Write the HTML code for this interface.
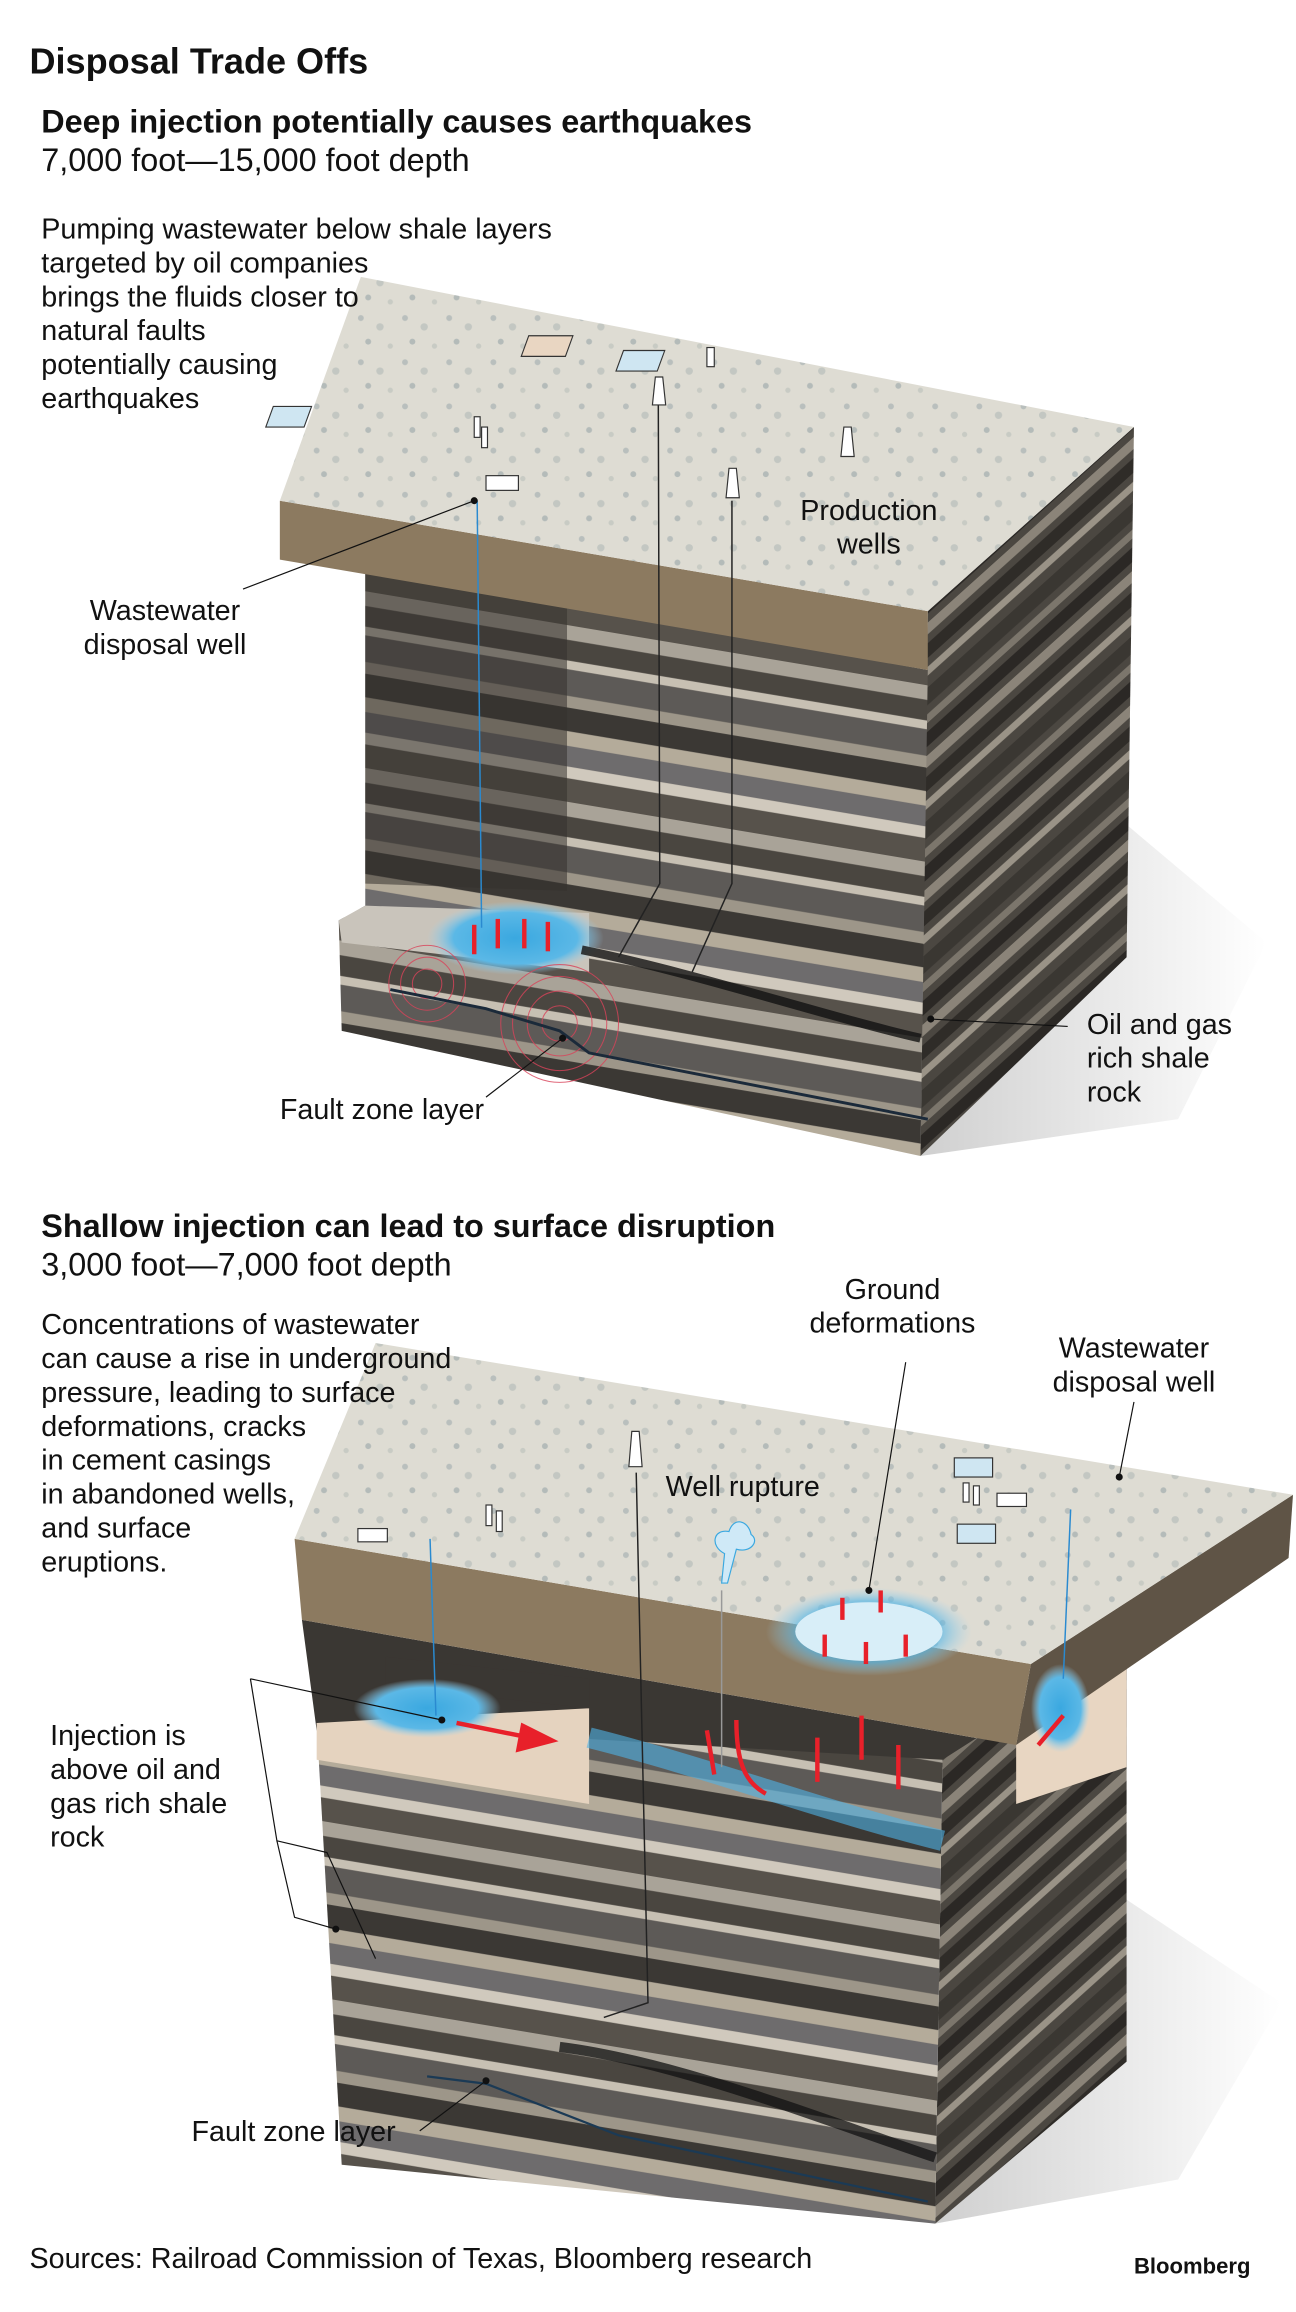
<!DOCTYPE html>
<html><head><meta charset="utf-8"><style>
html,body{margin:0;padding:0;background:#fff}
svg{display:block}
text{font-family:"Liberation Sans",Arial,sans-serif;fill:#111}
</style></head><body>
<svg width="1296" height="2312" viewBox="0 0 880 1570" xmlns="http://www.w3.org/2000/svg">
<defs>
<pattern id="strata" width="40" height="120" patternUnits="userSpaceOnUse" patternTransform="skewY(9.5)">
<rect width="40" height="120" fill="#6f6a62"/>
<rect y="0" width="40" height="10" fill="#a9a398"/>
<rect y="10" width="40" height="14" fill="#4a4640"/>
<rect y="24" width="40" height="6" fill="#c7c0b3"/>
<rect y="30" width="40" height="18" fill="#5d5a57"/>
<rect y="48" width="40" height="8" fill="#9d9689"/>
<rect y="56" width="40" height="16" fill="#3b3834"/>
<rect y="72" width="40" height="10" fill="#b4ab9a"/>
<rect y="82" width="40" height="14" fill="#6e6c6d"/>
<rect y="96" width="40" height="8" fill="#d0c9bd"/>
<rect y="104" width="40" height="16" fill="#57524b"/>
</pattern>
<pattern id="strataR" width="40" height="90" patternUnits="userSpaceOnUse" patternTransform="skewY(-42)">
<rect width="40" height="90" fill="#4b4741"/>
<rect y="0" width="40" height="8" fill="#8b8479"/>
<rect y="14" width="40" height="10" fill="#2f2c28"/>
<rect y="30" width="40" height="6" fill="#9a9387"/>
<rect y="44" width="40" height="12" fill="#3a3732"/>
<rect y="62" width="40" height="6" fill="#7c766c"/>
<rect y="74" width="40" height="10" fill="#2b2825"/>
</pattern>
<pattern id="ground" width="30" height="30" patternUnits="userSpaceOnUse">
<rect width="30" height="30" fill="#dedcd3"/>
<circle cx="5" cy="6" r="2" fill="#b9bfbd"/>
<circle cx="18" cy="12" r="2.5" fill="#c3c7c2"/>
<circle cx="10" cy="22" r="2" fill="#b4bbb9"/>
<circle cx="25" cy="25" r="1.8" fill="#c8cbc4"/>
</pattern>
<radialGradient id="blue"><stop offset="0" stop-color="#3aa8e0"/><stop offset="0.7" stop-color="#5bb8e6"/><stop offset="1" stop-color="#9fd3ef" stop-opacity="0"/></radialGradient>
<linearGradient id="shadow" x1="0" x2="1"><stop offset="0" stop-color="#bbb"/><stop offset="1" stop-color="#fff"/></linearGradient>
</defs>

<!-- BLOCK 1 -->
<polygon points="765,560 860,640 800,760 625,785" fill="url(#shadow)" opacity="0.7"/>
<polygon points="630,415 770,290 765,650 625,785" fill="url(#strataR)"/>
<polygon points="248,385 630,455 625,785 232,700 230,625 248,615" fill="url(#strata)"/>
<polygon points="248,385 385,410 385,605 248,600" fill="#35322e" opacity="0.55"/>
<polygon points="230,625 248,615 400,620 400,660 232,640" fill="#c9c4bb"/>
<polygon points="190,340 630,415 630,455 190,380" fill="#8c7a60"/>
<polygon points="190,340 245,188 770,290 630,415" fill="url(#ground)"/>
<ellipse cx="350" cy="637" rx="60" ry="25" fill="url(#blue)"/>
<g fill="none" stroke="#d9435a" stroke-width="0.7" opacity="0.8">
<circle cx="290" cy="668" r="10"/><circle cx="290" cy="668" r="18"/><circle cx="290" cy="668" r="26"/>
<circle cx="380" cy="695" r="12"/><circle cx="380" cy="695" r="22"/><circle cx="380" cy="695" r="32"/><circle cx="380" cy="695" r="40"/>
</g>
<path d="M265,672 L330,685 L380,700 L400,715 L630,760" stroke="#1b2a3a" stroke-width="2" fill="none"/>
<path d="M395,645 C470,660 560,690 625,705" stroke="#111" stroke-width="6" fill="none" opacity="0.8"/>
<g stroke="#e8202a" stroke-width="3" fill="#e8202a">
<line x1="322" y1="628" x2="322" y2="648"/><line x1="338" y1="624" x2="338" y2="644"/><line x1="356" y1="624" x2="356" y2="644"/><line x1="372" y1="626" x2="372" y2="646"/>
</g>
<g stroke="#222" fill="none" stroke-width="1">
<line x1="324" y1="340" x2="327" y2="630" stroke="#2a8ad0"/>
<path d="M447,275 L448,600 L420,650"/>
<path d="M497,340 L497,600 L470,660"/>
</g>
<g fill="#fff" stroke="#333" stroke-width="0.8">
<rect x="442" y="228" width="30" height="14" fill="#e9d6c2" transform="skewX(-20)"/>
<rect x="510" y="238" width="28" height="14" fill="#cfe6f2" transform="skewX(-20)"/>
<rect x="286" y="276" width="26" height="14" fill="#cfe6f2" transform="skewX(-20)"/>
<rect x="480" y="236" width="5" height="13"/>
<rect x="322" y="283" width="4" height="14"/><rect x="327" y="290" width="4" height="14"/>
<rect x="330" y="323" width="22" height="10"/>
<path d="M445,256 L450,256 L452,275 L443,275Z"/>
<path d="M495,318 L500,318 L502,338 L493,338Z"/>
<path d="M573,290 L578,290 L580,310 L571,310Z"/>
</g>

<text x="20" y="50" font-size="24.5" font-weight="bold">Disposal Trade Offs</text>
<text x="28" y="90" font-size="22" font-weight="bold">Deep injection potentially causes earthquakes</text>
<text x="28" y="116" font-size="22">7,000 foot—15,000 foot depth</text>
<g font-size="19.5">
<text x="28" y="162">Pumping wastewater below shale layers</text>
<text x="28" y="185">targeted by oil companies</text>
<text x="28" y="208">brings the fluids closer to</text>
<text x="28" y="231">natural faults</text>
<text x="28" y="254">potentially causing</text>
<text x="28" y="277">earthquakes</text>
<text x="590" y="353" text-anchor="middle">Production</text>
<text x="590" y="376" text-anchor="middle">wells</text>
<text x="112" y="421" text-anchor="middle">Wastewater</text>
<text x="112" y="444" text-anchor="middle">disposal well</text>
<text x="190" y="760">Fault zone layer</text>
<text x="738" y="702">Oil and gas</text>
<text x="738" y="725">rich shale</text>
<text x="738" y="748">rock</text>
</g>
<g stroke="#111" stroke-width="0.8">
<line x1="165" y1="400" x2="322" y2="340"/><circle cx="322" cy="340" r="2" fill="#111"/>
<line x1="330" y1="745" x2="382" y2="705"/><circle cx="382" cy="705" r="2" fill="#111"/>
<line x1="725" y1="697" x2="632" y2="692"/><circle cx="632" cy="692" r="2" fill="#111"/>
</g>

<text x="28" y="840" font-size="22" font-weight="bold">Shallow injection can lead to surface disruption</text>
<text x="28" y="866" font-size="22">3,000 foot—7,000 foot depth</text>

<!-- BLOCK 2 -->
<polygon points="765,1290 870,1360 800,1480 635,1510" fill="url(#shadow)" opacity="0.7"/>
<polygon points="205,1100 690,1185 765,1125 765,1200 640,1200 215,1175" fill="#3a3733"/>
<polygon points="640,1195 765,1115 765,1400 635,1510" fill="url(#strataR)"/>
<polygon points="215,1170 640,1195 635,1510 232,1470" fill="url(#strata)"/>
<polygon points="215,1170 400,1160 400,1225 215,1195" fill="#e5d3bf"/>
<polygon points="690,1170 765,1125 765,1200 690,1225" fill="#e8d6c2"/>
<polygon points="262,1125 400,1140 400,1160 262,1145" fill="#3a3733"/>
<polygon points="700,1130 878,1015 875,1058 690,1185" fill="#5f5446"/>
<polygon points="200,1045 700,1130 690,1185 205,1100" fill="#8c7a60"/>
<polygon points="200,1045 255,912 878,1015 700,1130" fill="url(#ground)"/>
<ellipse cx="290" cy="1160" rx="50" ry="20" fill="url(#blue)"/>
<ellipse cx="720" cy="1160" rx="20" ry="30" fill="url(#blue)"/>
<ellipse cx="590" cy="1108" rx="70" ry="30" fill="url(#blue)" opacity="0.7"/>
<ellipse cx="590" cy="1108" rx="50" ry="20" fill="#d8eef8"/>
<path d="M400,1180 C480,1200 560,1230 640,1250" stroke="#4fb3e6" stroke-width="14" fill="none" opacity="0.6"/>
<path d="M380,1390 C460,1400 560,1440 635,1465" stroke="#111" stroke-width="7" fill="none" opacity="0.75"/>
<path d="M290,1410 L330,1415 L420,1450 L630,1495" stroke="#1b3a55" stroke-width="1.5" fill="none"/>
<g stroke="#e8202a" stroke-width="3" fill="none">
<path d="M310,1170 L360,1180"/>
<polygon points="355,1172 375,1182 352,1188" fill="#e8202a"/>
<path d="M480,1175 L485,1205 M500,1168 C500,1195 505,1210 520,1218"/>
<line x1="555" y1="1180" x2="555" y2="1210"/><line x1="585" y1="1165" x2="585" y2="1195"/><line x1="610" y1="1185" x2="610" y2="1215"/>
<line x1="572" y1="1100" x2="572" y2="1085"/><line x1="598" y1="1095" x2="598" y2="1080"/><line x1="560" y1="1125" x2="560" y2="1110"/><line x1="588" y1="1130" x2="588" y2="1115"/><line x1="615" y1="1125" x2="615" y2="1110"/>
<line x1="722" y1="1165" x2="705" y2="1185"/>
</g>
<g stroke="#222" fill="none" stroke-width="1">
<line x1="292" y1="1045" x2="296" y2="1165" stroke="#2a8ad0"/>
<path d="M432,1000 L440,1360 L410,1370"/>
<line x1="490" y1="1080" x2="490" y2="1200" stroke="#999"/>
<line x1="727" y1="1025" x2="722" y2="1140" stroke="#2a8ad0"/>
</g>
<path d="M490,1075 L492,1055 C482,1050 484,1038 495,1040 C498,1030 508,1032 510,1042 C516,1046 510,1055 500,1052 L494,1075Z" fill="#cfe9f7" stroke="#3aa8e0" stroke-width="0.8"/>
<g fill="#fff" stroke="#333" stroke-width="0.8">
<rect x="300" y="1018" width="26" height="13" fill="#cfe6f2" transform="skewX(-20)"/>
<rect x="648" y="990" width="26" height="13" fill="#cfe6f2"/>
<rect x="650" y="1035" width="26" height="13" fill="#cfe6f2"/>
<rect x="330" y="1022" width="4" height="14"/><rect x="337" y="1026" width="4" height="14"/>
<rect x="654" y="1007" width="4" height="13"/><rect x="661" y="1009" width="4" height="13"/>
<rect x="243" y="1038" width="20" height="9"/><rect x="677" y="1014" width="20" height="9"/>
<path d="M429,972 L434,972 L436,996 L427,996Z"/>
</g>
<g font-size="19.5">
<text x="28" y="906">Concentrations of wastewater</text>
<text x="28" y="929">can cause a rise in underground</text>
<text x="28" y="952">pressure, leading to surface</text>
<text x="28" y="975">deformations, cracks</text>
<text x="28" y="998">in cement casings</text>
<text x="28" y="1021">in abandoned wells,</text>
<text x="28" y="1044">and surface</text>
<text x="28" y="1067">eruptions.</text>
<text x="606" y="882" text-anchor="middle">Ground</text>
<text x="606" y="905" text-anchor="middle">deformations</text>
<text x="770" y="922" text-anchor="middle">Wastewater</text>
<text x="770" y="945" text-anchor="middle">disposal well</text>
<text x="452" y="1016">Well rupture</text>
<text x="34" y="1185">Injection is</text>
<text x="34" y="1208">above oil and</text>
<text x="34" y="1231">gas rich shale</text>
<text x="34" y="1254">rock</text>
<text x="130" y="1454">Fault zone layer</text>
</g>
<g stroke="#111" stroke-width="0.8" fill="none">
<line x1="615" y1="925" x2="590" y2="1080"/><circle cx="590" cy="1080" r="2" fill="#111"/>
<line x1="770" y1="952" x2="760" y2="1003"/><circle cx="760" cy="1003" r="2" fill="#111"/>
<path d="M170,1140 L300,1168"/><circle cx="300" cy="1168" r="2" fill="#111"/>
<path d="M170,1140 L188,1250 L222,1258 L255,1330"/>
<path d="M188,1250 L200,1302 L228,1310"/><circle cx="228" cy="1310" r="2" fill="#111"/>
<line x1="285" y1="1447" x2="330" y2="1413"/><circle cx="330" cy="1413" r="2" fill="#111"/>
</g>

<text x="20" y="1540" font-size="19.5">Sources: Railroad Commission of Texas, Bloomberg research</text>
<text x="770" y="1544" font-size="15" font-weight="bold">Bloomberg</text>
</svg>
</body></html>
